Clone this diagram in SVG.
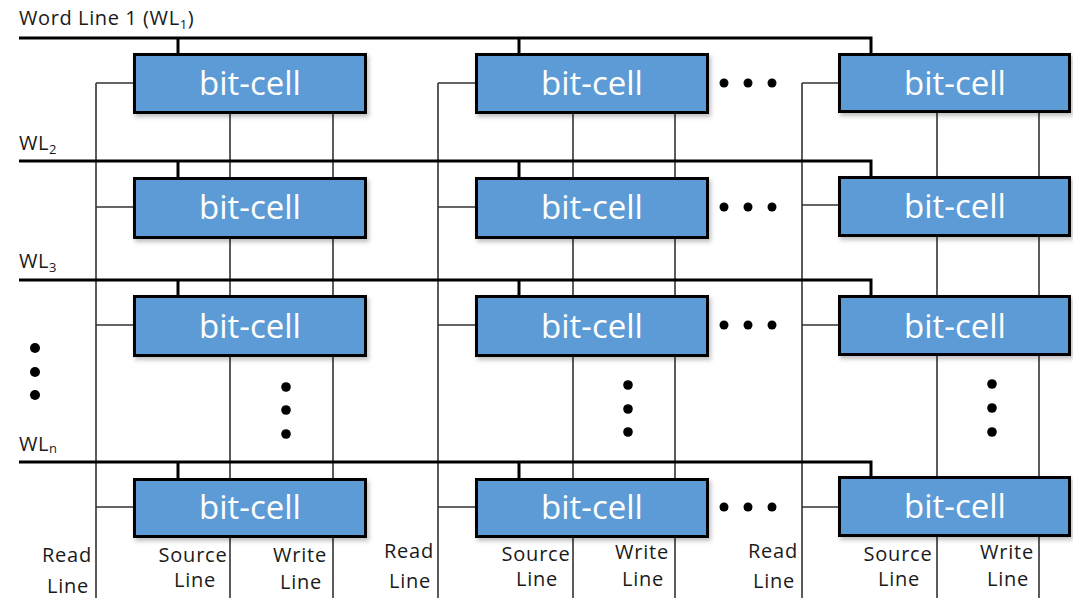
<svg xmlns="http://www.w3.org/2000/svg" width="1073" height="598" viewBox="0 0 1073 598">
<defs>
<filter id="sh" x="-5%" y="-10%" width="115%" height="130%">
<feDropShadow dx="2" dy="3" stdDeviation="2" flood-color="#000" flood-opacity="0.25"/>
</filter>
<style>
.wl{fill:none;stroke:#000;stroke-width:3}
.ln{fill:none;stroke:#333;stroke-width:1.6}
.box{fill:#5B9BD5;stroke:#000;stroke-width:3;filter:url(#sh)}
.bt{font-family:"Open Sans",sans-serif;font-size:33px;fill:#fff;text-anchor:middle}
.lb{font-family:"Open Sans",sans-serif;font-size:20px;fill:#1a1a1a;text-anchor:middle;letter-spacing:0.8px}
.wt{font-family:"Open Sans",sans-serif;font-size:20px;fill:#1a1a1a;letter-spacing:0.6px}
.dot{fill:#000}
</style>
</defs>
<rect width="1073" height="598" fill="#fff"/>

<g id="connectors">
<path class="ln" d="M96 83 V598 M438 83 V598 M802 83 V598"/>
<path class="ln" d="M230 114 V598 M333 114 V598 M573 114 V598 M675 114 V598 M937 112 V598 M1039 112 V598"/>
<path class="ln" d="M96 83 H134 M438 83 H476 M802 83 H839"/>
<path class="ln" d="M96 207 H134 M438 207 H476 M802 205 H839"/>
<path class="ln" d="M96 325 H134 M438 325 H476 M802 325 H839"/>
<path class="ln" d="M96 507 H134 M438 507 H476 M802 507 H839"/>
<path class="wl" d="M19 38 H871 V53 M178 38 V53 M519 38 V53"/>
<path class="wl" d="M19 161 H871 V177 M178 161 V177 M519 161 V177"/>
<path class="wl" d="M19 280 H871 V295 M178 280 V295 M519 280 V295"/>
<path class="wl" d="M19 462 H871 V478 M178 462 V478 M519 462 V478"/>
</g>

<g id="cell-1-1"><rect class="box" x="134.5" y="54.5" width="231" height="58"/><text class="bt" x="250" y="95">bit-cell</text></g>
<g id="cell-1-2"><rect class="box" x="476.5" y="54.5" width="231" height="58"/><text class="bt" x="592" y="95">bit-cell</text></g>
<g id="cell-1-3"><rect class="box" x="839.5" y="54.5" width="230" height="57"/><text class="bt" x="955" y="95">bit-cell</text></g>

<g id="cell-2-1"><rect class="box" x="134.5" y="178.5" width="231" height="59"/><text class="bt" x="250" y="219">bit-cell</text></g>
<g id="cell-2-2"><rect class="box" x="476.5" y="178.5" width="231" height="59"/><text class="bt" x="592" y="219">bit-cell</text></g>
<g id="cell-2-3"><rect class="box" x="839.5" y="177.5" width="230" height="58"/><text class="bt" x="955" y="218">bit-cell</text></g>

<g id="cell-3-1"><rect class="box" x="134.5" y="296.5" width="231" height="59"/><text class="bt" x="250" y="338">bit-cell</text></g>
<g id="cell-3-2"><rect class="box" x="476.5" y="296.5" width="231" height="59"/><text class="bt" x="592" y="338">bit-cell</text></g>
<g id="cell-3-3"><rect class="box" x="839.5" y="296.5" width="230" height="58"/><text class="bt" x="955" y="338">bit-cell</text></g>

<g id="cell-n-1"><rect class="box" x="134.5" y="479.5" width="231" height="57"/><text class="bt" x="250" y="519">bit-cell</text></g>
<g id="cell-n-2"><rect class="box" x="476.5" y="479.5" width="231" height="57"/><text class="bt" x="592" y="519">bit-cell</text></g>
<g id="cell-n-3"><rect class="box" x="839.5" y="477.5" width="230" height="58"/><text class="bt" x="955" y="518">bit-cell</text></g>

<g id="dots">
<circle class="dot" cx="724" cy="83" r="4.5"/><circle class="dot" cx="748" cy="83" r="4.5"/><circle class="dot" cx="772" cy="83" r="4.5"/>
<circle class="dot" cx="724" cy="207" r="4.5"/><circle class="dot" cx="748" cy="207" r="4.5"/><circle class="dot" cx="772" cy="207" r="4.5"/>
<circle class="dot" cx="724" cy="325" r="4.5"/><circle class="dot" cx="748" cy="325" r="4.5"/><circle class="dot" cx="772" cy="325" r="4.5"/>
<circle class="dot" cx="724" cy="507" r="4.5"/><circle class="dot" cx="748" cy="507" r="4.5"/><circle class="dot" cx="772" cy="507" r="4.5"/>
<circle class="dot" cx="35" cy="348" r="5"/><circle class="dot" cx="35" cy="372" r="5"/><circle class="dot" cx="35" cy="395" r="5"/>
<circle class="dot" cx="286" cy="387" r="4.8"/><circle class="dot" cx="286" cy="410" r="4.8"/><circle class="dot" cx="286" cy="434" r="4.8"/>
<circle class="dot" cx="628" cy="385" r="4.8"/><circle class="dot" cx="628" cy="409" r="4.8"/><circle class="dot" cx="628" cy="432" r="4.8"/>
<circle class="dot" cx="992" cy="384" r="4.8"/><circle class="dot" cx="992" cy="408" r="4.8"/><circle class="dot" cx="992" cy="432" r="4.8"/>
</g>

<g id="wl-labels">
<text class="wt" x="19" y="25" font-size="21">Word Line 1 (WL<tspan font-size="13" dy="4">1</tspan><tspan dy="-4">)</tspan></text>
<text class="wt" x="19" y="150">WL<tspan font-size="13" dy="4">2</tspan></text>
<text class="wt" x="19" y="268">WL<tspan font-size="13" dy="4">3</tspan></text>
<text class="wt" x="19" y="451">WL<tspan font-size="13" dy="2">n</tspan></text>
</g>

<g id="bottom-labels">
<text class="lb" x="67" y="562">Read</text><text class="lb" x="68" y="593">Line</text>
<text class="lb" x="193" y="562">Source</text><text class="lb" x="195" y="587">Line</text>
<text class="lb" x="300" y="562">Write</text><text class="lb" x="301" y="589">Line</text>
<text class="lb" x="409" y="558">Read</text><text class="lb" x="410" y="588">Line</text>
<text class="lb" x="536" y="561">Source</text><text class="lb" x="537" y="586">Line</text>
<text class="lb" x="642" y="559">Write</text><text class="lb" x="643" y="586">Line</text>
<text class="lb" x="773" y="558">Read</text><text class="lb" x="774" y="588">Line</text>
<text class="lb" x="898" y="561">Source</text><text class="lb" x="899" y="586">Line</text>
<text class="lb" x="1007" y="559">Write</text><text class="lb" x="1008" y="586">Line</text>
</g>
</svg>
